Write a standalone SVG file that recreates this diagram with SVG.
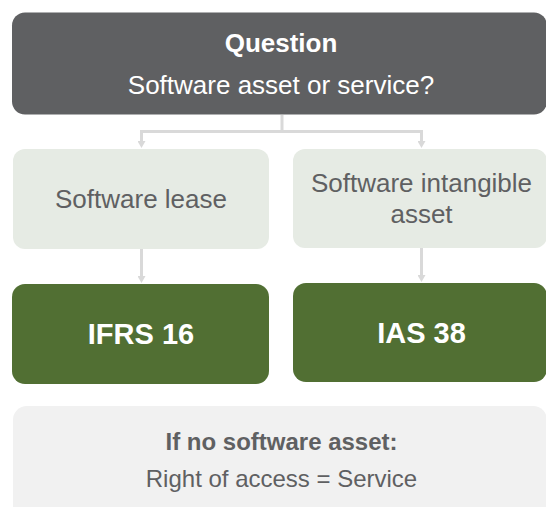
<svg xmlns="http://www.w3.org/2000/svg" width="546" height="507" viewBox="0 0 546 507">
  <defs>
    <marker id="arrow" viewBox="0 0 7 8" refX="0.5" refY="4" markerWidth="7" markerHeight="8" markerUnits="userSpaceOnUse" orient="auto">
      <path d="M0,0 L7,4 L0,8 z" fill="#d9d9d9"/>
    </marker>
    <style>
      text { font-family: "Liberation Sans", Arial, sans-serif; text-anchor: middle; }
      .q-box { fill: #5f6062; }
      .opt-box { fill: #e6ebe4; }
      .std-box { fill: #516f33; }
      .note-box { fill: #f1f1f1; }
      .white { fill: #ffffff; }
      .grey { fill: #5f6062; }
      .b { font-weight: bold; }
      .conn { fill: none; stroke: #d9d9d9; stroke-width: 3; }
    </style>
  </defs>

  <rect width="546" height="507" fill="#ffffff"/>

  <!-- connectors -->
  <g id="connectors">
    <path class="conn" d="M282,115 V131.5"/>
    <path class="conn" d="M141.5,131.5 H421.5"/>
    <path class="conn" d="M141.5,130 V141.5" marker-end="url(#arrow)"/>
    <path class="conn" d="M421.5,130 V141.5" marker-end="url(#arrow)"/>
    <path class="conn" d="M141.5,249 V276.5" marker-end="url(#arrow)"/>
    <path class="conn" d="M421.5,248 V275.5" marker-end="url(#arrow)"/>
  </g>

  <!-- question -->
  <g id="question">
    <rect class="q-box" x="12" y="12.5" width="535" height="102" rx="13"/>
    <text class="white b" x="281" y="52" font-size="26">Question</text>
    <text class="white" x="281" y="94" font-size="26">Software asset or service?</text>
  </g>

  <!-- software lease -->
  <g id="software-lease">
    <rect class="opt-box" x="13" y="149" width="256" height="100" rx="12"/>
    <text class="grey" x="141" y="208" font-size="26">Software lease</text>
  </g>

  <!-- software intangible asset -->
  <g id="software-intangible">
    <rect class="opt-box" x="293" y="149" width="254" height="99" rx="12"/>
    <text class="grey" x="421.5" y="192" font-size="26">Software intangible</text>
    <text class="grey" x="421.5" y="223" font-size="26">asset</text>
  </g>

  <!-- IFRS 16 -->
  <g id="ifrs16">
    <rect class="std-box" x="12" y="284" width="257" height="100" rx="13"/>
    <text class="white b" x="141" y="344" font-size="29">IFRS 16</text>
  </g>

  <!-- IAS 38 -->
  <g id="ias38">
    <rect class="std-box" x="293" y="283" width="254" height="99" rx="13"/>
    <text class="white b" x="421.5" y="343" font-size="29">IAS 38</text>
  </g>

  <!-- note -->
  <g id="note">
    <rect class="note-box" x="13" y="406" width="534" height="116" rx="14"/>
    <text class="grey b" x="281.5" y="450" font-size="24">If no software asset:</text>
    <text class="grey" x="281.5" y="487" font-size="24">Right of access = Service</text>
  </g>
</svg>
